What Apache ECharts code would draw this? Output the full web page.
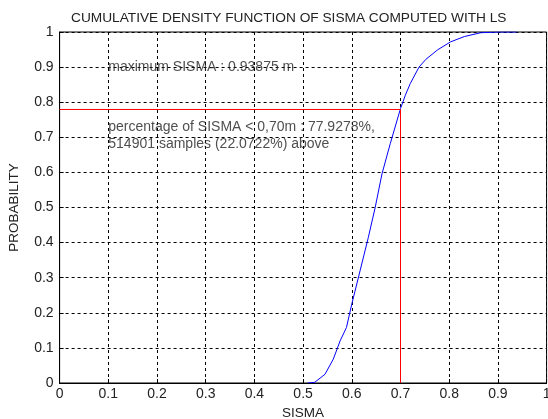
<!DOCTYPE html>
<html><head><meta charset="utf-8">
<script src="https://cdn.jsdelivr.net/npm/echarts@6/dist/echarts.min.js"></script>
<style>html,body{margin:0;padding:0;background:#fff}#c{width:548px;height:419px}</style>
</head><body><div id="c"></div>
<script>
const titleText = "CUMULATIVE DENSITY FUNCTION OF SISMA COMPUTED WITH LS";
const xName = "SISMA";
const yName = "PROBABILITY";
const cdfX = [0.510,0.524,0.545,0.562,0.576,0.589,0.600,0.617,0.634,0.648,0.662,0.679,0.700,0.710,0.720,0.738,0.752,0.776,0.803,0.831,0.865,0.903,0.939];
const cdfY = [0.000,0.002,0.025,0.068,0.120,0.158,0.225,0.320,0.415,0.500,0.596,0.682,0.782,0.820,0.853,0.900,0.922,0.949,0.972,0.987,0.998,1.000,1.000];
const threshold = 0.70;
const thresholdProb = 0.779278;
const annotations = [
  {x: 0.1, y: 0.9, text: "maximum SISMA : 0.93875 m"},
  {x: 0.1, y: 0.704, text: "percentage of SISMA < 0,70m : 77.9278%,\n514901 samples (22.0722%) above"}
];
const font = "'Liberation Sans', Arial, sans-serif";
const textColor = "#222";

const chart = echarts.init(document.getElementById('c'), null, {renderer: 'canvas'});
const axisCommon = {
  type: 'value', min: 0, max: 1, interval: 0.1,
  axisLine: {show: true, onZero: false, lineStyle: {color: '#000', width: 1}},
  axisTick: {show: true, inside: true, length: 4, lineStyle: {color: '#000'}},
  splitLine: {show: true, lineStyle: {color: '#000', type: [3, 3], width: 1}},
  axisLabel: {color: textColor, fontFamily: font, fontSize: 14,
    formatter: v => (Math.round(v * 10) / 10).toString()},
  nameTextStyle: {color: textColor, fontFamily: font, fontSize: 13.5}
};
chart.setOption({
  animation: false,
  backgroundColor: '#fff',
  title: {text: titleText, left: 66, top: 6,
    textStyle: {color: textColor, fontFamily: font, fontSize: 13.7, fontWeight: 'normal'}},
  grid: {left: 59.6, right: 1.4, top: 32, bottom: 36, show: true, borderColor: '#000', borderWidth: 1,
    backgroundColor: 'transparent', containLabel: false, outerBoundsMode: 'none'},
  xAxis: Object.assign({}, axisCommon, {name: xName, nameLocation: 'middle', nameGap: 22,
    axisLabel: Object.assign({}, axisCommon.axisLabel, {margin: 4})}),
  yAxis: Object.assign({}, axisCommon, {name: yName, nameLocation: 'middle', nameGap: 38,
    axisLabel: Object.assign({}, axisCommon.axisLabel, {margin: 6})}),
  series: [
    {type: 'line', data: cdfX.map((x, i) => [x, cdfY[i]]), showSymbol: false, smooth: false,
      lineStyle: {color: '#0000ff', width: 1}, z: 3},
    {type: 'line', data: [[0, thresholdProb], [threshold, thresholdProb], [threshold, 0]], showSymbol: false,
      lineStyle: {color: '#ff0000', width: 1}, z: 4},
    {type: 'scatter', symbolSize: 0, z: 5,
      data: annotations.map(a => ({value: [a.x, a.y], text: a.text})),
      label: {show: true, position: 'right', distance: 0, formatter: p => p.data.text,
        color: textColor, fontFamily: font, fontSize: 14, lineHeight: 17}}
  ]
});
</script></body></html>
